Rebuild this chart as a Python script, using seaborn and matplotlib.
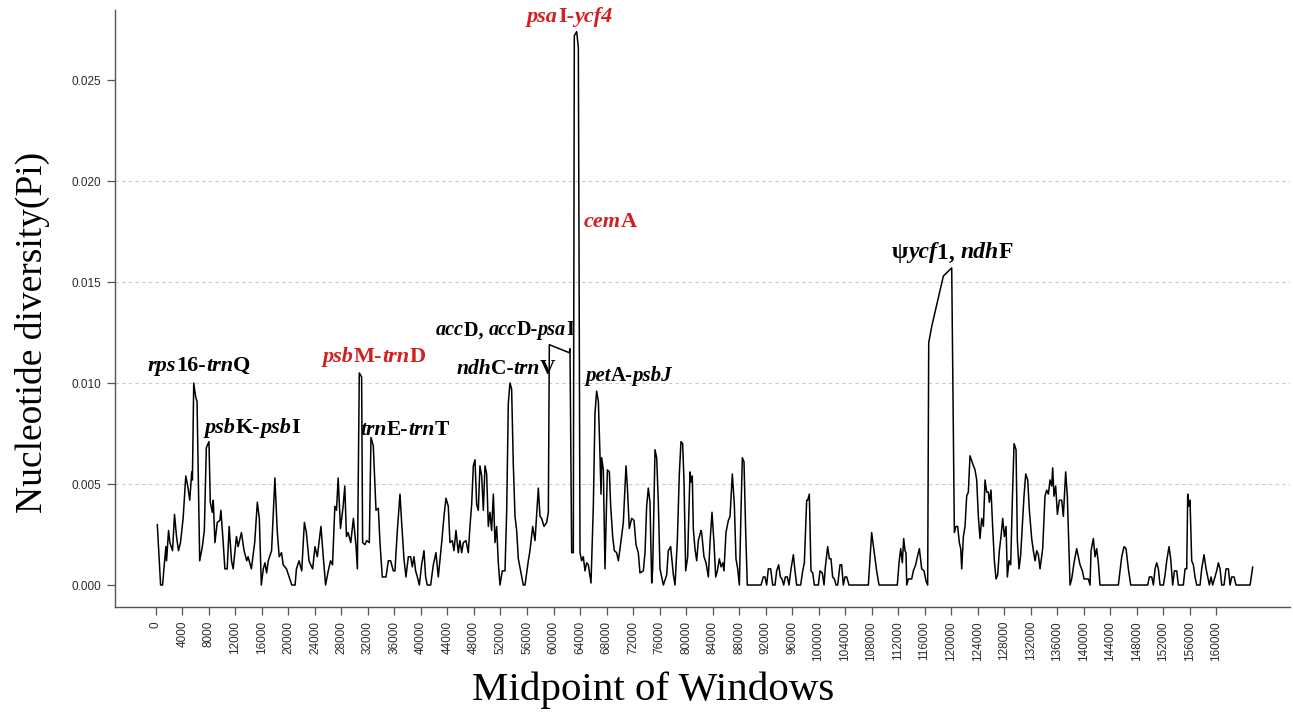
import numpy as np
import pandas as pd
import matplotlib
matplotlib.use("Agg")
import matplotlib.pyplot as plt
import seaborn as sns
from matplotlib.offsetbox import TextArea, HPacker, AnnotationBbox

# sliding window midpoints (bp) and nucleotide diversity
window_mid = [
    200, 700, 1000, 1200, 1500, 1600, 1900, 2100, 2500, 2800, 3100, 3400, 3700, 4100, 4500,
    4800, 5100, 5400, 5500, 5700, 6000, 6200, 6600, 7000, 7300, 7600, 8000, 8200, 8500, 8650,
    8900, 9250, 9650, 9800, 10150, 10400, 10750, 11050, 11400, 11650, 12150, 12400, 12900,
    13300, 13700, 13900, 14400, 14900, 15300, 15600, 15900, 16200, 16450, 16700, 16950,
    17450, 17950, 18300, 18600, 18950, 19200, 19700, 20200, 20500, 21000, 21200, 21600,
    22000, 22400, 22700, 23100, 23350, 23650, 24000, 24350, 24900, 25250, 25600, 26000,
    26350, 26650, 27000, 27250, 27500, 27850, 28250, 28500, 28750, 29000, 29400, 29800,
    30200, 30400, 30690, 31040, 31190, 31550, 31800, 32200, 32450, 32800, 33210, 33560,
    33810, 34160, 34720, 35070, 35420, 35820, 36070, 36430, 36830, 37080, 37430, 37730,
    38090, 38440, 38690, 38940, 39190, 39450, 39750, 40100, 40450, 40700, 40950, 41460,
    41860, 42260, 42610, 43120, 43470, 43770, 44120, 44370, 44730, 44980, 45280, 45630,
    45880, 46140, 46390, 46790, 47140, 47390, 47650, 47900, 48150, 48400, 48650, 48900,
    49160, 49410, 49660, 49910, 50160, 50410, 50660, 50920, 51170, 51420, 51670, 51920,
    52270, 52680, 52930, 53180, 53430, 53680, 53930, 54190, 54440, 54690, 55040, 55440,
    55700, 56200, 56450, 56860, 57210, 57460, 57710, 57960, 58210, 58570, 58970, 59220,
    59370, 62390, 62490, 62740, 62990, 63140, 63500, 63750, 64000, 64250, 64500, 64750,
    65000, 65260, 65660, 66010, 66260, 66510, 66770, 67020, 67170, 67270, 67520, 67770,
    68130, 68430, 68630, 68930, 69180, 69530, 69790, 70040, 70540, 70940, 71140, 71440,
    71800, 72150, 72450, 72800, 73050, 73560, 73810, 74060, 74310, 74560, 74820, 74970,
    75320, 75570, 75820, 76070, 76580, 77080, 77330, 77680, 78090, 78340, 78690, 78990,
    79240, 79490, 79700, 79950, 80250, 80600, 80750, 80950, 81100, 81350, 81610, 81860,
    82260, 82360, 82710, 83020, 83370, 83620, 83920, 84220, 84480, 84730, 85030, 85280,
    85530, 85730, 86030, 86390, 86640, 86990, 87290, 87540, 87800, 88050, 88300, 88500,
    88750, 89000, 89250, 91320, 91670, 91920, 92170, 92420, 92780, 93080, 93430, 93680,
    93980, 94240, 94490, 94740, 94990, 95290, 95540, 95850, 96200, 96450, 96700, 97300,
    97610, 97860, 98210, 98360, 98610, 98860, 99120, 99370, 99970, 100220, 100570, 100830,
    101030, 101380, 101630, 101880, 102130, 102390, 102640, 102890, 103240, 103490, 103740,
    103990, 104250, 104600, 107520, 108020, 108370, 108770, 109130, 111890, 112150, 112400,
    112650, 112850, 113050, 113200, 113310, 113560, 114060, 114310, 114660, 114920, 115220,
    115570, 115920, 116220, 116470, 116630, 117080, 118840, 120100, 120500, 120750, 121000,
    121250, 121460, 121610, 121860, 122110, 122360, 122610, 122860, 123270, 123620, 123870,
    124120, 124370, 124630, 124880, 125130, 125380, 125630, 125780, 126030, 126290, 126540,
    126790, 127040, 127290, 127540, 127800, 128050, 128300, 128500, 128750, 129000, 129250,
    129510, 129810, 130010, 130260, 130510, 130810, 131010, 131270, 131570, 131820, 132170,
    132420, 132680, 132930, 133180, 133430, 133830, 134180, 134430, 134690, 134940, 135190,
    135340, 135540, 135790, 136050, 136350, 136700, 136950, 137300, 137550, 137960, 138210,
    138560, 138960, 139470, 139820, 140070, 140720, 140980, 141130, 141480, 141730, 141980,
    142230, 142480, 145250, 145760, 146110, 146410, 146760, 147120, 149680, 149930, 150290,
    150540, 150790, 151040, 151290, 151540, 152050, 152300, 152550, 152900, 153150, 153450,
    153710, 154060, 154310, 155060, 155320, 155570, 155720, 155920, 156070, 156320, 156570,
    156820, 157080, 157580, 157830, 158180, 158490, 158740, 158990, 159240, 159490, 159840,
    160090, 160350, 160600, 160850, 161200, 161500, 161860, 162110, 162360, 162710, 163010,
    165130, 165530,
]
pi_values = [
    0.0030, 0.0000, 0.0000, 0.0008, 0.0019, 0.0012, 0.0027, 0.0021, 0.0017, 0.0035, 0.0024,
    0.0017, 0.0021, 0.0033, 0.0054, 0.0049, 0.0042, 0.0056, 0.0052, 0.0100, 0.0093, 0.0091,
    0.0012, 0.0019, 0.0027, 0.0068, 0.0071, 0.0041, 0.0036, 0.0042, 0.0021, 0.0031, 0.0032,
    0.0037, 0.0021, 0.0008, 0.0008, 0.0029, 0.0012, 0.0008, 0.0024, 0.0019, 0.0026, 0.0017,
    0.0012, 0.0014, 0.0008, 0.0021, 0.0041, 0.0033, 0.0000, 0.0008, 0.0011, 0.0006, 0.0012,
    0.0017, 0.0053, 0.0027, 0.0014, 0.0016, 0.0010, 0.0008, 0.0003, 0.0000, 0.0000, 0.0008,
    0.0012, 0.0007, 0.0031, 0.0026, 0.0012, 0.0010, 0.0008, 0.0019, 0.0014, 0.0029, 0.0014,
    0.0000, 0.0007, 0.0012, 0.0010, 0.0039, 0.0037, 0.0053, 0.0028, 0.0039, 0.0049, 0.0024,
    0.0026, 0.0021, 0.0033, 0.0019, 0.0008, 0.0105, 0.0103, 0.0021, 0.0020, 0.0022, 0.0021,
    0.0073, 0.0069, 0.0037, 0.0038, 0.0021, 0.0004, 0.0004, 0.0012, 0.0012, 0.0007, 0.0007,
    0.0027, 0.0045, 0.0031, 0.0013, 0.0004, 0.0014, 0.0014, 0.0009, 0.0014, 0.0007, 0.0004,
    0.0000, 0.0010, 0.0017, 0.0004, 0.0000, 0.0000, 0.0010, 0.0016, 0.0004, 0.0021, 0.0034,
    0.0043, 0.0039, 0.0021, 0.0022, 0.0017, 0.0027, 0.0016, 0.0022, 0.0016, 0.0021, 0.0022,
    0.0016, 0.0029, 0.0040, 0.0059, 0.0062, 0.0040, 0.0037, 0.0059, 0.0054, 0.0037, 0.0059,
    0.0055, 0.0029, 0.0036, 0.0027, 0.0045, 0.0021, 0.0029, 0.0011, 0.0000, 0.0007, 0.0007,
    0.0036, 0.0090, 0.0100, 0.0097, 0.0060, 0.0034, 0.0027, 0.0013, 0.0007, 0.0000, 0.0000,
    0.0012, 0.0017, 0.0029, 0.0022, 0.0035, 0.0048, 0.0034, 0.0033, 0.0029, 0.0031, 0.0036,
    0.0119, 0.0115, 0.0117, 0.0016, 0.0016, 0.0272, 0.0274, 0.0266, 0.0016, 0.0012, 0.0014,
    0.0007, 0.0011, 0.0010, 0.0001, 0.0039, 0.0085, 0.0096, 0.0091, 0.0064, 0.0045, 0.0063,
    0.0057, 0.0008, 0.0057, 0.0056, 0.0039, 0.0024, 0.0017, 0.0016, 0.0012, 0.0018, 0.0031,
    0.0059, 0.0049, 0.0028, 0.0033, 0.0032, 0.0020, 0.0016, 0.0006, 0.0007, 0.0016, 0.0039,
    0.0048, 0.0041, 0.0001, 0.0008, 0.0067, 0.0063, 0.0041, 0.0008, 0.0000, 0.0005, 0.0017,
    0.0019, 0.0005, 0.0000, 0.0022, 0.0055, 0.0071, 0.0070, 0.0051, 0.0007, 0.0014, 0.0056,
    0.0051, 0.0054, 0.0028, 0.0018, 0.0012, 0.0022, 0.0027, 0.0026, 0.0014, 0.0011, 0.0004,
    0.0021, 0.0036, 0.0021, 0.0004, 0.0007, 0.0013, 0.0009, 0.0011, 0.0007, 0.0026, 0.0032,
    0.0034, 0.0055, 0.0040, 0.0013, 0.0008, 0.0000, 0.0037, 0.0063, 0.0061, 0.0027, 0.0000,
    0.0000, 0.0004, 0.0004, 0.0000, 0.0008, 0.0008, 0.0000, 0.0000, 0.0007, 0.0010, 0.0004,
    0.0003, 0.0000, 0.0004, 0.0004, 0.0000, 0.0008, 0.0015, 0.0007, 0.0000, 0.0000, 0.0007,
    0.0011, 0.0042, 0.0042, 0.0045, 0.0007, 0.0006, 0.0000, 0.0000, 0.0007, 0.0006, 0.0000,
    0.0009, 0.0019, 0.0013, 0.0013, 0.0004, 0.0003, 0.0000, 0.0000, 0.0010, 0.0010, 0.0000,
    0.0004, 0.0004, 0.0000, 0.0000, 0.0026, 0.0017, 0.0007, 0.0000, 0.0000, 0.0011, 0.0018,
    0.0011, 0.0023, 0.0017, 0.0016, 0.0000, 0.0003, 0.0003, 0.0007, 0.0010, 0.0014, 0.0018,
    0.0008, 0.0007, 0.0002, 0.0000, 0.0120, 0.0128, 0.0153, 0.0157, 0.0026, 0.0029, 0.0029,
    0.0021, 0.0018, 0.0008, 0.0024, 0.0029, 0.0044, 0.0046, 0.0064, 0.0060, 0.0057, 0.0052,
    0.0034, 0.0023, 0.0033, 0.0029, 0.0052, 0.0046, 0.0046, 0.0041, 0.0047, 0.0028, 0.0012,
    0.0003, 0.0005, 0.0017, 0.0024, 0.0033, 0.0024, 0.0029, 0.0004, 0.0012, 0.0010, 0.0042,
    0.0070, 0.0067, 0.0022, 0.0008, 0.0015, 0.0033, 0.0044, 0.0055, 0.0052, 0.0037, 0.0023,
    0.0017, 0.0012, 0.0017, 0.0015, 0.0008, 0.0018, 0.0044, 0.0047, 0.0045, 0.0052, 0.0049,
    0.0058, 0.0044, 0.0049, 0.0035, 0.0042, 0.0042, 0.0034, 0.0056, 0.0044, 0.0000, 0.0003,
    0.0011, 0.0018, 0.0010, 0.0007, 0.0003, 0.0003, 0.0000, 0.0017, 0.0023, 0.0014, 0.0018,
    0.0011, 0.0000, 0.0000, 0.0014, 0.0019, 0.0018, 0.0008, 0.0000, 0.0000, 0.0004, 0.0004,
    0.0000, 0.0008, 0.0011, 0.0008, 0.0000, 0.0000, 0.0005, 0.0012, 0.0019, 0.0013, 0.0000,
    0.0007, 0.0007, 0.0000, 0.0000, 0.0008, 0.0008, 0.0045, 0.0039, 0.0042, 0.0012, 0.0010,
    0.0004, 0.0000, 0.0000, 0.0008, 0.0015, 0.0008, 0.0004, 0.0000, 0.0004, 0.0000, 0.0004,
    0.0007, 0.0011, 0.0008, 0.0000, 0.0000, 0.0008, 0.0008, 0.0000, 0.0004, 0.0004, 0.0000,
    0.0000, 0.0009,
]

x_ticks = list(range(0, 160001, 4000))
y_ticks = [0.000, 0.005, 0.010, 0.015, 0.020, 0.025]
y_tick_labels = ["0.000", "0.005", "0.010", "0.015", "0.020", "0.025"]
grid_levels = [0.005, 0.010, 0.015, 0.020]

# hotspot labels: (text pieces as (text, italic)), colour
hotspots = [
    ([("rps", True), ("16-", False), ("trn", True), ("Q", False)], "black"),
    ([("psb", True), ("K-", False), ("psb", True), ("I", False)], "black"),
    ([("psb", True), ("M-", False), ("trn", True), ("D", False)], "red"),
    ([("trn", True), ("E-", False), ("trn", True), ("T", False)], "black"),
    ([("acc", True), ("D, ", False), ("acc", True), ("D-", False), ("psa", True), ("I", False)], "black"),
    ([("ndh", True), ("C-", False), ("trn", True), ("V", False)], "black"),
    ([("psa", True), ("I-", False), ("ycf4", True)], "red"),
    ([("cem", True), ("A", False)], "red"),
    ([("pet", True), ("A-", False), ("psbJ", True)], "black"),
    ([("\u03c8", False), ("ycf", True), ("1, ", False), ("ndh", True), ("F", False)], "black"),
]
# left edge / vertical centre of each label in data units
label_pos = [
    (-1200, 0.01084), (7400, 0.00777), (25200, 0.01129), (30900, 0.00767),
    (42300, 0.01262), (45300, 0.01069), (56000, 0.02810), (64500, 0.01797),
    (64800, 0.01035), (111100, 0.01644),
]
label_size = [16, 16, 16, 15.5, 14.5, 15.5, 16, 16, 15, 17]

RED = "#d21f1f"
SERIF = "Liberation Serif"
SANS = "Liberation Sans"

df = pd.DataFrame({"mid": window_mid, "pi": pi_values})

sns.set_style("ticks")
fig = plt.figure(figsize=(12.93, 7.15), dpi=100)
ax = fig.add_axes([0.0889, 0.151, 0.909, 0.835])

for lvl in grid_levels:
    ax.axhline(lvl, color="#c9c9c9", lw=0.8, ls=(0, (3, 3)), zorder=0)

sns.lineplot(data=df, x="mid", y="pi", color="black", lw=1.1,
             estimator=None, sort=False, ax=ax)

ax.set_xlim(-6190, 171200)
ax.set_ylim(-0.00109, 0.02847)
ax.set_xticks(x_ticks)
ax.set_xticklabels([str(t) for t in x_ticks], rotation=90,
                   fontfamily=SANS, fontsize=8.5, color="#2a2a2a")
ax.set_yticks(y_ticks)
ax.set_yticklabels(y_tick_labels, fontfamily=SANS, fontsize=8.5, color="#2a2a2a")
ax.tick_params(axis="both", length=6, width=0.9, color="#555555", pad=4)

for side in ["top", "right"]:
    ax.spines[side].set_visible(False)
for side in ["left", "bottom"]:
    ax.spines[side].set_color("#555555")
    ax.spines[side].set_linewidth(1.0)

ax.set_xlabel("Midpoint of Windows", fontfamily=SERIF, fontsize=29.5, color="black")
ax.set_ylabel("Nucleotide diversity(Pi)", fontfamily=SERIF, fontsize=27, color="black")
ax.xaxis.set_label_coords(0.458, -0.108)
ax.yaxis.set_label_coords(-0.055, 0.46)

for (pieces, col), (lx, ly), fs in zip(hotspots, label_pos, label_size):
    c = RED if col == "red" else "black"
    kids = [TextArea(t, textprops=dict(fontfamily=SERIF, fontweight="bold",
                                       fontstyle="italic" if it else "normal",
                                       fontsize=fs, color=c))
            for t, it in pieces]
    box = HPacker(children=kids, align="baseline", pad=0, sep=0)
    ab = AnnotationBbox(box, (lx, ly), xycoords="data", frameon=False,
                        box_alignment=(0, 0.5), pad=0)
    ax.add_artist(ab)

fig.savefig("out.png", dpi=100)
